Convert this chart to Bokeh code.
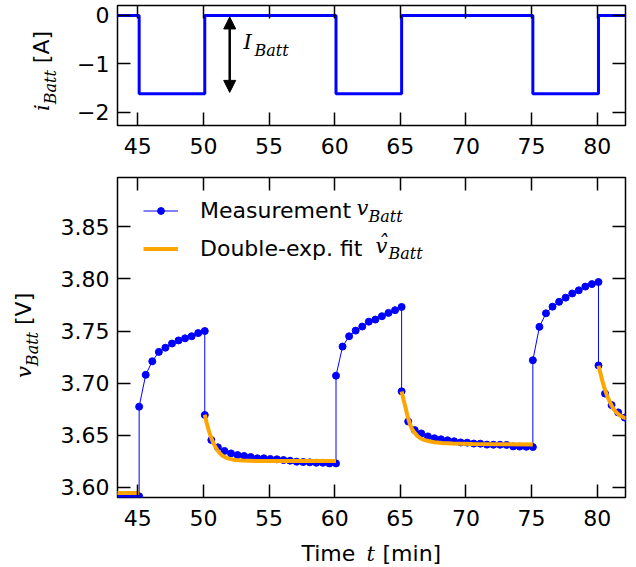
from bokeh.plotting import figure
from bokeh.models import (Range1d, FixedTicker, LinearAxis, Label, Arrow,
                          NormalHead, Legend, LegendItem, Div)
from bokeh.core.properties import value
from bokeh.layouts import column, row
from bokeh.embed import file_html
from bokeh.resources import INLINE

# ---------------- data ----------------
x_ticks = [45, 50, 55, 60, 65, 70, 75, 80]
x_tick_labels = ["45", "50", "55", "60", "65", "70", "75", "80"]
v_ticks = [3.60, 3.65, 3.70, 3.75, 3.80, 3.85]
v_tick_labels = ["3.60", "3.65", "3.70", "3.75", "3.80", "3.85"]
i_ticks = [-2, -1, 0]
i_tick_labels = ["\u22122", "\u22121", "0"]

# battery current (step function) [A]
i_t = [43.0, 45.1, 50.1, 60.1, 65.1, 75.1, 80.1, 83.0]
i_v = [0.0, -1.62, 0.0, -1.62, 0.0, -1.62, 0.0, 0.0]

# measured battery voltage [V]
t_meas = [43.1, 43.6, 44.1, 44.6, 45.1,
          45.1, 45.6, 46.1, 46.6, 47.1, 47.6, 48.1, 48.6, 49.1, 49.6, 50.1,
          50.1, 50.6, 51.1, 51.6, 52.1, 52.6, 53.1, 53.6, 54.1, 54.6, 55.1,
          55.6, 56.1, 56.6, 57.1, 57.6, 58.1, 58.6, 59.1, 59.6, 60.1,
          60.1, 60.6, 61.1, 61.6, 62.1, 62.6, 63.1, 63.6, 64.1, 64.6, 65.1,
          65.1, 65.6, 66.1, 66.6, 67.1, 67.6, 68.1, 68.6, 69.1, 69.6, 70.1,
          70.6, 71.1, 71.6, 72.1, 72.6, 73.1, 73.6, 74.1, 74.6, 75.1,
          75.1, 75.6, 76.1, 76.6, 77.1, 77.6, 78.1, 78.6, 79.1, 79.6, 80.1,
          80.1, 80.6, 81.1, 81.6, 82.1, 82.6]
v_meas = [3.5915, 3.5915, 3.5915, 3.5915, 3.5915,
          3.6775, 3.708, 3.721, 3.730, 3.734, 3.738, 3.741, 3.743, 3.745, 3.748, 3.750,
          3.6695, 3.6455, 3.6385, 3.6350, 3.6327, 3.6311, 3.6302, 3.6292, 3.6280, 3.6280, 3.6273,
          3.6270, 3.6263, 3.6257, 3.6247, 3.6244, 3.6241, 3.6237, 3.6237, 3.6231, 3.6231,
          3.7072, 3.7351, 3.7450, 3.7504, 3.7543, 3.7590, 3.7610, 3.7642, 3.7674, 3.7700, 3.7731,
          3.6922, 3.6633, 3.6550, 3.6518, 3.6490, 3.6472, 3.6462, 3.6452, 3.6443, 3.6432, 3.6430,
          3.6421, 3.6420, 3.6411, 3.6410, 3.6410, 3.6408, 3.6394, 3.6392, 3.6390, 3.6388,
          3.722, 3.754, 3.767, 3.7734, 3.778, 3.782, 3.786, 3.789, 3.7926, 3.795, 3.797,
          3.717, 3.690, 3.679, 3.672, 3.667, 3.663]

# double-exponential fit segments [V]
fit0_t = [43.1, 44.1, 45.1]
fit0_v = [3.5948, 3.5947, 3.5946]
fit1_t = [50.1, 50.25, 50.4, 50.55, 50.7, 50.85, 51.0, 51.2, 51.45, 51.7, 52.0, 52.4, 53.0, 54.0, 56.0, 60.1]
fit1_v = [3.6698, 3.6618, 3.6548, 3.6490, 3.6442, 3.6404, 3.6370, 3.6334, 3.6305, 3.6287, 3.6274, 3.6264, 3.6258, 3.6255, 3.6253, 3.6253]
fit2_t = [65.1, 65.25, 65.4, 65.55, 65.7, 65.85, 66.0, 66.25, 66.5, 66.8, 67.2, 67.6, 68.2, 69.0, 70.5, 72.5, 75.1]
fit2_v = [3.6921, 3.6840, 3.6765, 3.6685, 3.6622, 3.6572, 3.6540, 3.6500, 3.6475, 3.6457, 3.6443, 3.6434, 3.6427, 3.6421, 3.6417, 3.6414, 3.6412]
fit3_t = [80.1, 80.25, 80.4, 80.55, 80.75, 81.0, 81.25, 81.5, 81.75, 82.0, 82.3]
fit3_v = [3.7168, 3.7095, 3.7020, 3.6955, 3.6882, 3.6810, 3.6753, 3.6715, 3.6690, 3.6673, 3.6660]

# current-amplitude arrow
arrow_t = 52.0
arrow_from = -0.03
arrow_to = -1.59

# ---------------- layout ----------------
XR = (43.45, 82.16)
VR = (3.5904, 3.8972)
IR = (-2.275, 0.2068)
FONT = "DejaVu Sans"
MATH = "DejaVu Serif"
FS = 22
MFS = 21
SUB = 16
MID = 0.3   # em distance from the alphabetic baseline up to the "middle" anchor


def bx(px):
    return XR[0] + (px - 117) * (XR[1] - XR[0]) / 508.0


def by_v(py):
    return VR[1] - (py - 177) * (VR[1] - VR[0]) / 320.0


def by_i(py):
    return IR[1] - (py - 5) * (IR[1] - IR[0]) / 120.0


def setup(p, yt, ylabels, xstand):
    p.xgrid.visible = False
    p.ygrid.visible = False
    p.outline_line_color = "black"
    p.outline_line_width = 1.5
    p.background_fill_color = "white"
    p.border_fill_color = "white"
    p.add_layout(LinearAxis(ticker=FixedTicker(ticks=x_ticks),
                            major_label_text_font_size="1px",
                            major_label_text_color=None,
                            major_label_standoff=0), "above")
    p.add_layout(LinearAxis(ticker=FixedTicker(ticks=yt),
                            major_label_text_font_size="1px",
                            major_label_text_color=None,
                            major_label_standoff=0), "right")
    p.below[0].ticker = FixedTicker(ticks=x_ticks)
    p.left[0].ticker = FixedTicker(ticks=yt)
    for ax in p.axis:
        ax.axis_line_color = None
        ax.major_tick_in = 13
        ax.major_tick_out = 0
        ax.minor_tick_in = 0
        ax.minor_tick_out = 0
        ax.major_tick_line_width = 1.5
        ax.major_tick_line_color = "black"
    xa = p.below[0]
    xa.major_label_overrides = {float(t): s for t, s in zip(x_ticks, x_tick_labels)}
    xa.major_label_text_font = FONT
    xa.major_label_text_font_size = f"{FS}px"
    xa.major_label_text_color = "black"
    xa.major_label_standoff = xstand
    ya = p.left[0]
    ya.major_label_overrides = {float(t): s for t, s in zip(yt, ylabels)}
    ya.major_label_text_font = FONT
    ya.major_label_text_font_size = f"{FS}px"
    ya.major_label_text_color = "black"
    ya.major_label_standoff = 8


def lab(p, yfun, text, px, py_base, font, size, italic=False):
    # annotation text inside a plot frame; py_base = page pixel of the baseline
    p.add_layout(Label(x=bx(px), y=yfun(py_base - MID * size), text=text,
                       text_font=font, text_font_size=f"{size}px",
                       text_font_style="italic" if italic else "normal",
                       text_align="left", text_baseline="middle",
                       text_color="black"))


def vlabel(width, height, left, top, math, sub, unit):
    # rotated axis title as HTML text (math letter, subscript, unit)
    html = (
        f'<div style="position:relative; left:{left}px; top:{top}px; width:200px; '
        'transform:rotate(-90deg); transform-origin:0 0; white-space:nowrap; '
        f'line-height:22px; color:#000; font-family:\'{FONT}\'; font-size:{FS}px;">'
        f'<span style="font-family:\'{MATH}\'; font-style:italic; font-size:{MFS}px;">{math}</span>'
        f'<span style="font-family:\'{MATH}\'; font-style:italic; font-size:{SUB}px; '
        f'position:relative; top:7px;">{sub}</span>&nbsp;{unit}</div>')
    return Div(text=html, width=width, height=height, margin=0,
               styles={"overflow": "visible", "padding": "0", "margin": "0"})


# ---------------- top: current ----------------
p1 = figure(width=576, height=163, x_range=Range1d(*XR), y_range=Range1d(*IR),
            output_backend="svg", toolbar_location=None,
            min_border_left=57, min_border_right=11,
            min_border_top=5, min_border_bottom=38)
setup(p1, i_ticks, i_tick_labels, 12)
p1.step(i_t, i_v, mode="after", line_color="#0000ff", line_width=3)
p1.add_layout(Arrow(x_start=arrow_t, y_start=arrow_from, x_end=arrow_t, y_end=arrow_to,
                    line_width=2.5, line_color="black",
                    start=NormalHead(size=12, fill_color="black", line_color="black"),
                    end=NormalHead(size=12, fill_color="black", line_color="black")))
lab(p1, by_i, "I", 243, 48, MATH, MFS, italic=True)
lab(p1, by_i, "Batt", 254, 55, MATH, SUB, italic=True)

# left title for the current plot: text starts at page y 111, baseline at page x 50
lab_top = vlabel(60, 163, 31, 111, "i", "Batt", "[A]")

# ---------------- bottom: voltage ----------------
p2 = figure(width=586, height=374, x_range=Range1d(*XR), y_range=Range1d(*VR),
            output_backend="svg", toolbar_location=None,
            min_border_left=67, min_border_right=11,
            min_border_top=14, min_border_bottom=40)
setup(p2, v_ticks, v_tick_labels, 12)
r_line = p2.line(t_meas, v_meas, line_color="#0000ff", line_width=1)
r_pts = p2.scatter(t_meas, v_meas, size=7, fill_color="#0000ff", line_color="#0000ff")
r_fit = p2.multi_line([fit0_t, fit1_t, fit2_t, fit3_t], [fit0_v, fit1_v, fit2_v, fit3_v],
                      line_color="#ffa500", line_width=4)

legend = Legend(items=[LegendItem(label="Measurement", renderers=[r_line, r_pts]),
                       LegendItem(label="Double-exp. fit", renderers=[r_fit])],
                location=(26, 234), padding=0, margin=0, spacing=8,
                glyph_width=35, glyph_height=17, label_height=30, label_standoff=22,
                label_text_font=FONT, label_text_font_size=f"{FS}px",
                label_text_color="black",
                border_line_alpha=0, background_fill_alpha=0)
p2.add_layout(legend)
lab(p2, by_v, "v", 356, 214, MATH, MFS, italic=True)
lab(p2, by_v, "Batt", 368, 221, MATH, SUB, italic=True)
lab(p2, by_v, "v", 375, 252, MATH, MFS, italic=True)
lab(p2, by_v, "\u02c6", 377, 249, MATH, MFS, italic=True)
lab(p2, by_v, "Batt", 388, 258, MATH, SUB, italic=True)

# left title for the voltage plot: text starts at page y 378, baseline at page x 32
lab_bot = vlabel(50, 374, 13, 378 - 163, "v", "Batt", "[V]")

# x label canvas: page x 0..636, page y 537..567 (data units = pixels, y up)
xlab = figure(frame_width=636, frame_height=30,
              x_range=Range1d(0, 636), y_range=Range1d(0, 30),
              x_axis_location=None, y_axis_location=None, title=None,
              output_backend="svg", toolbar_location=None,
              min_border_left=0, min_border_right=0,
              min_border_top=0, min_border_bottom=0)
xlab.grid.visible = False
xlab.outline_line_color = None
xlab.background_fill_color = "white"
xlab.border_fill_color = "white"
for text, x, font, size, style in [("Time", 301, FONT, FS, "normal"),
                                   ("t", 366, MATH, MFS, "italic"),
                                   ("[min]", 382, FONT, FS, "normal")]:
    xlab.text(x=[x], y=[567 - (560 - MID * size)], text=[text],
              text_font=value(font), text_font_size=value(f"{size}px"),
              text_font_style=style, text_align="left",
              text_baseline="middle", text_color="black")

layout = column(row(lab_top, p1), row(lab_bot, p2), xlab)
open("out.html", "w").write(file_html(layout, INLINE))
